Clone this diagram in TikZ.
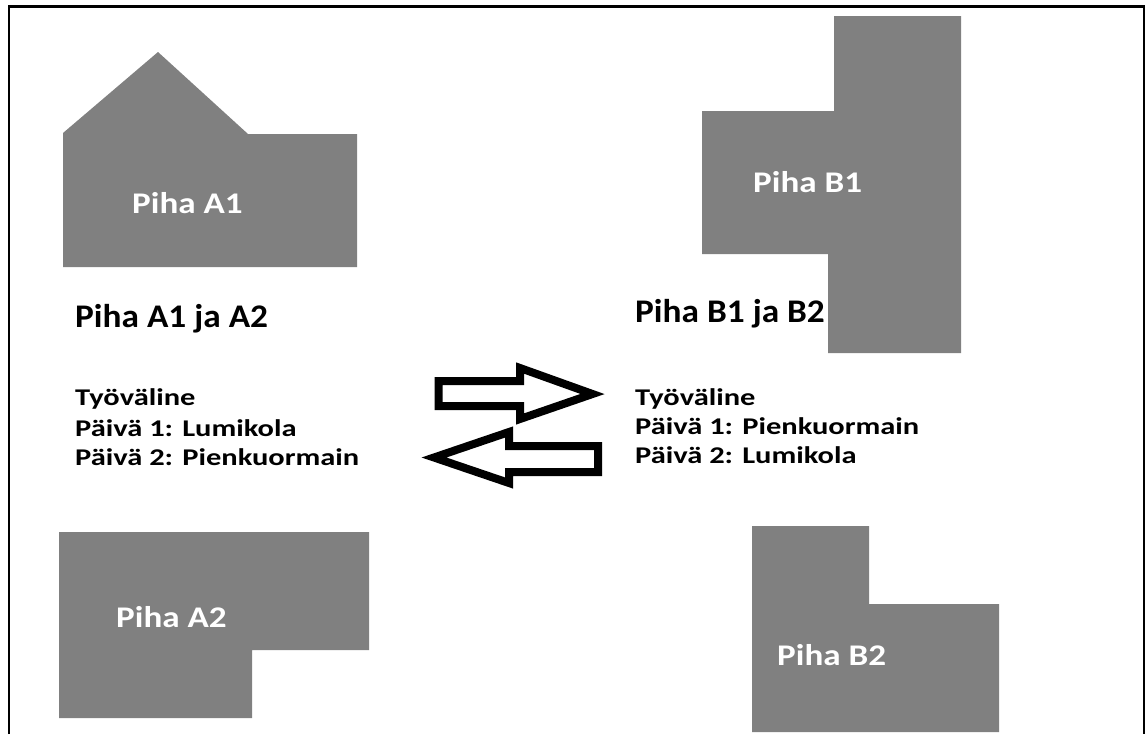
\documentclass[tikz,border=0pt]{standalone}
\usepackage{fontspec}
\setmainfont{Carlito}
\usepackage{graphicx}
\definecolor{lotgray}{RGB}{128,128,128}
\newcommand{\hwide}[2]{\scalebox{#1}[1]{#2}}

\begin{document}
\begin{tikzpicture}[x=1pt,y=-1pt,
  lot/.style={fill=lotgray,draw=none},
  lotlabel/.style={inner sep=0pt,anchor=base west,text=white,
    font=\fontsize{30}{36}\selectfont\bfseries},
  heading/.style={inner sep=0pt,anchor=base west,text=black,
    font=\fontsize{33}{40}\selectfont\bfseries},
  bodyline/.style={inner sep=0pt,anchor=base west,text=black,
    font=\fontsize{24}{28}\selectfont\bfseries},
  swaparrow/.style={draw=black,fill=white,line width=8pt,line join=miter}]

\useasboundingbox (0,0) rectangle (1147,734);

% page frame (open at the bottom)
\draw[line width=2.5pt] (9,734) -- (9,6.5) -- (1144,6.5) -- (1144,734);

% lots
\fill[lot] (63,133) -- (158,52) -- (248,134) -- (357,134) -- (357,267) -- (63,267) -- cycle;
\fill[lot] (834,16) -- (961,16) -- (961,353) -- (828,353) -- (828,254)
  -- (702,254) -- (702,111) -- (834,111) -- cycle;
\fill[lot] (59,532) -- (369,532) -- (369,650) -- (252,650) -- (252,718) -- (59,718) -- cycle;
\fill[lot] (752,526) -- (869,526) -- (869,604) -- (999,604) -- (999,732) -- (752,732) -- cycle;

% lot names
\node[lotlabel] (lA1) at (132,213) {\hwide{1.17}{Piha A1}};
\node[lotlabel] (lA2) at (116,627) {\hwide{1.17}{Piha A2}};
\node[lotlabel] (lB1) at (753,192) {\hwide{1.17}{Piha B1}};
\node[lotlabel] (lB2) at (777,665) {\hwide{1.17}{Piha B2}};

% headings
\node[heading] (hA) at (75,327) {\hwide{1.07}{Piha A1 ja A2}};
\node[heading] (hB) at (635,322) {\hwide{1.07}{Piha B1 ja B2}};

% schedules
\node[bodyline] (a1) at (75,405) {\hwide{1.27}{Työväline}};
\node[bodyline] (a2) at (75,436) {\hwide{1.27}{Päivä 1: Lumikola}};
\node[bodyline] (a3) at (75,465) {\hwide{1.27}{Päivä 2: Pienkuormain}};
\node[bodyline] (b1) at (635,405) {\hwide{1.27}{Työväline}};
\node[bodyline] (b2) at (635,434) {\hwide{1.27}{Päivä 1: Pienkuormain}};
\node[bodyline] (b3) at (635,463) {\hwide{1.27}{Päivä 2: Lumikola}};

% swap arrows
\draw[swaparrow] (438.5,381) -- (520,381) -- (520,368) -- (592.5,394)
  -- (520,419) -- (520,406) -- (438.5,406) -- cycle;
\draw[swaparrow] (598,446) -- (509,446) -- (509,432) -- (434,457.5)
  -- (509,483) -- (509,472) -- (598,472) -- cycle;
\end{tikzpicture}
\end{document}
